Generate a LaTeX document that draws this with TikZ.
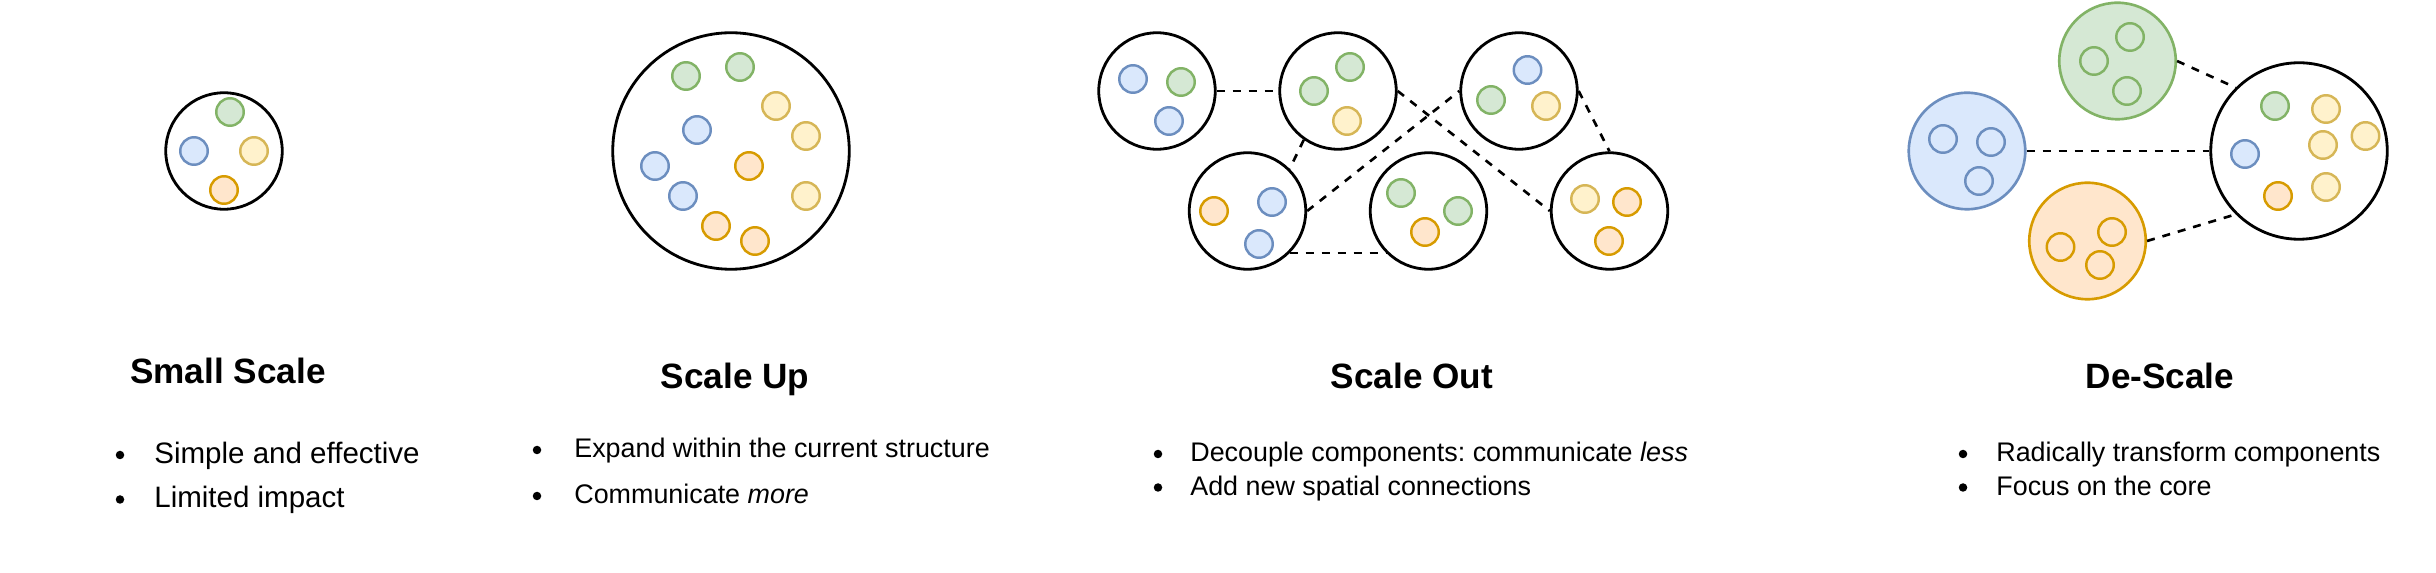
\documentclass[tikz,border=0pt]{standalone}
\usepackage{fontspec}
\setmainfont{Liberation Sans}
\frenchspacing
\usepackage{tikz}
\definecolor{paleblue}{HTML}{DAE8FC}
\definecolor{edgeblue}{HTML}{6C8EBF}
\definecolor{palegreen}{HTML}{D5E8D4}
\definecolor{edgegreen}{HTML}{82B366}
\definecolor{paleyellow}{HTML}{FFF2CC}
\definecolor{edgeyellow}{HTML}{D6B656}
\definecolor{paleorange}{HTML}{FFE6CC}
\definecolor{edgeorange}{HTML}{D79B00}
\tikzset{
  unit/.style={circle,draw=black,line width=1.6pt,inner sep=0pt,minimum size=#1},
  part/.style={circle,line width=1.4pt,inner sep=0pt,minimum size=0.55cm,draw=edge#1,fill=pale#1},
  team/.style={circle,line width=1.5pt,inner sep=0pt,minimum size=2.33cm,draw=edge#1,fill=pale#1},
  link/.style={line width=1.5pt,dash pattern=on 0.16cm off 0.16cm},
  heading/.style={anchor=base,inner sep=0pt,font=\fontsize{20}{24}\selectfont\bfseries},
  bul/.style={circle,fill=black,inner sep=0pt,minimum size=0.17cm},
  item/.style={anchor=base west,inner sep=0pt,font=\fontsize{#1}{18}\selectfont}
}

\begin{document}
\begin{tikzpicture}
    \useasboundingbox (0,0) rectangle (48.72,11.46);
    % small scale
    \node[unit=2.33cm] (small) at (4.48,8.44) {};
    \foreach \c/\x/\y [count=\i] in {green/4.60/9.22, blue/3.88/8.44,
        yellow/5.08/8.44, orange/4.48/7.66}
      \node[part=\c] (small\i) at (\x,\y) {};
    % scale up
    \node[unit=4.73cm] (up) at (14.62,8.44) {};
    \foreach \c/\x/\y [count=\i] in {green/13.72/9.94, green/14.80/10.12,
        yellow/15.52/9.34, blue/13.94/8.86, yellow/16.12/8.74, blue/13.10/8.14,
        orange/14.98/8.14, blue/13.66/7.54, yellow/16.12/7.54,
        orange/14.32/6.94, orange/15.10/6.64}
      \node[part=\c] (up\i) at (\x,\y) {};
    % scale out
    \foreach \n/\x/\y in {o1/23.14/9.64, o2/26.76/9.64, o3/30.38/9.64,
        o4/24.95/7.24, o5/28.57/7.24, o6/32.19/7.24}
      \node[unit=2.33cm] (\n) at (\x,\y) {};
    \foreach \c/\x/\y [count=\i] in {blue/22.66/9.88, green/23.62/9.82,
        blue/23.38/9.04, green/26.28/9.64, green/27.00/10.12, yellow/26.94/9.04,
        blue/30.55/10.06, green/29.82/9.46, yellow/30.92/9.34,
        orange/24.28/7.24, blue/25.44/7.42, blue/25.18/6.58,
        green/28.02/7.60, green/29.16/7.24, orange/28.50/6.82,
        yellow/31.70/7.48, orange/32.54/7.42, orange/32.18/6.64}
      \node[part=\c] (out\i) at (\x,\y) {};
    \draw[link] (o1) -- (o2);
    \draw[link] (o2.235) -- (o4.north east);
    \draw[link] (o4.south east) -- (o5.south west);
    \draw[link] (o4.east) -- (o3.west);
    \draw[link] (o2.east) -- (o6.west);
    \draw[link] (o3.east) -- (o6.north);
    % de-scale
    \node[team=green] (dgreen) at (42.35,10.24) {};
    \node[team=blue] (dblue) at (39.34,8.44) {};
    \node[team=orange] (dorange) at (41.75,6.64) {};
    \node[unit=3.53cm] (core) at (45.98,8.44) {};
    \foreach \c/\x/\y [count=\i] in {green/41.88/10.24, green/42.60/10.72,
        green/42.54/9.64, blue/38.86/8.68, blue/39.82/8.62, blue/39.58/7.84,
        orange/41.21/6.52, orange/42.24/6.82, orange/42.00/6.16,
        green/45.50/9.34, yellow/46.52/9.28, yellow/47.31/8.74, blue/44.90/8.38,
        yellow/46.46/8.56, orange/45.56/7.54, yellow/46.52/7.72}
      \node[part=\c] (de\i) at (\x,\y) {};
    \draw[link] (dgreen.east) -- (core.north west);
    \draw[link] (dblue) -- (core);
    \draw[link] (dorange.east) -- (core.south west);
    % titles and bullets
    \node[heading] (tsmall) at (4.56,3.78) {Small Scale};
    \node[heading] (tup) at (14.70,3.68) {Scale Up};
    \node[heading] (tout) at (28.24,3.68) {Scale Out};
    \node[heading] (tde) at (43.20,3.68) {De-Scale};
    \foreach \t/\y [count=\i] in {Simple and effective/2.19, Limited impact/1.30}{
      \node[bul] (bsmall\i) at (2.40,\y+0.17) {};
      \node[item=16.8] (lsmall\i) at (3.08,\y) {\t};}
    \foreach \t/\y [count=\i] in {Expand within the current structure/2.30,
        Communicate \textit{more}/1.38}{
      \node[bul] (bup\i) at (10.74,\y+0.16) {};
      \node[item=15.3] (lup\i) at (11.48,\y) {\t};}
    \foreach \t/\y [count=\i] in {Decouple components: communicate \textit{less}/2.22,
        Add new spatial connections/1.55}{
      \node[bul] (bout\i) at (23.16,\y+0.16) {};
      \node[item=15.3] (lout\i) at (23.80,\y) {\t};}
    \foreach \t/\y [count=\i] in {Radically transform components/2.22,
        Focus on the core/1.55}{
      \node[bul] (bde\i) at (39.26,\y+0.16) {};
      \node[item=15.3] (lde\i) at (39.92,\y) {\t};}
\end{tikzpicture}
\end{document}
